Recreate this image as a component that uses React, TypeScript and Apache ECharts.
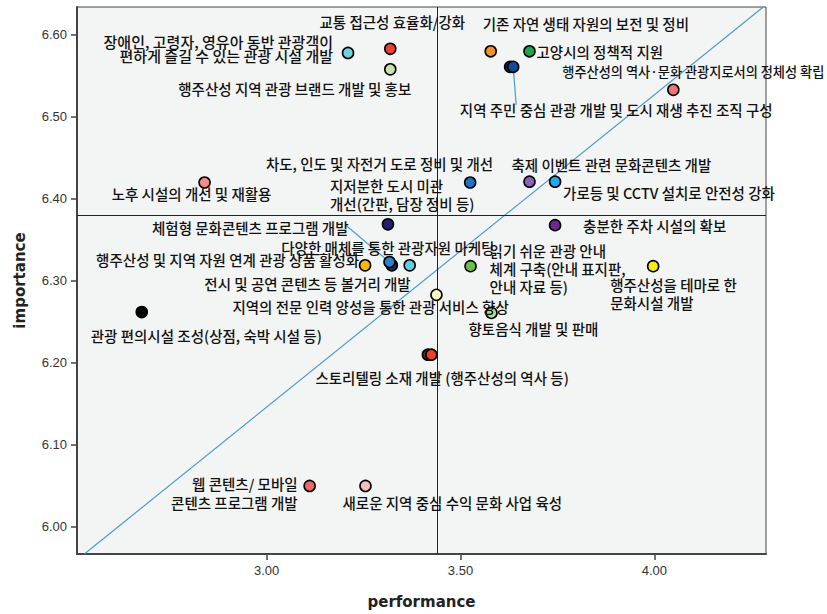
import React, { useEffect, useRef } from "react";
import * as echarts from "echarts";

// Items (the three first ones are points drawn underneath overlapping markers)
const ITEM_NAMES = [
  "",
  "다양한 매체를 통한 관광자원 마케팅",
  "",
  "교통 접근성 효율화/강화",
  "장애인, 고령자, 영유아 동반 관광객이\n편하게 즐길 수 있는 관광 시설 개발",
  "행주산성 지역 관광 브랜드 개발 및 홍보",
  "기존 자연 생태 자원의 보전 및 정비",
  "고양시의 정책적 지원",
  "행주산성의 역사·문화 관광지로서의 정체성 확립",
  "지역 주민 중심 관광 개발 및 도시 재생 추진 조직 구성",
  "차도, 인도 및 자전거 도로 정비 및 개선",
  "지저분한 도시 미관\n개선(간판, 담장 정비 등)",
  "축제 이벤트 관련 문화콘텐츠 개발",
  "가로등 및 CCTV 설치로 안전성 강화",
  "노후 시설의 개선 및 재활용",
  "충분한 주차 시설의 확보",
  "체험형 문화콘텐츠 프로그램 개발",
  "행주산성 및 지역 자원 연계 관광 상품 활성화",
  "전시 및 공연 콘텐츠 등 볼거리 개발",
  "지역의 전문 인력 양성을 통한 관광 서비스 향상",
  "관광 편의시설 조성(상점, 숙박 시설 등)",
  "스토리텔링 소재 개발 (행주산성의 역사 등)",
  "읽기 쉬운 관광 안내\n체계 구축(안내 표지판,\n안내 자료 등)",
  "행주산성을 테마로 한\n문화시설 개발",
  "향토음식 개발 및 판매",
  "웹 콘텐츠/ 모바일\n콘텐츠 프로그램 개발",
  "새로운 지역 중심 수익 문화 사업 육성",
];

const PERFORMANCE = [
  3.628, 3.323, 3.416,
  3.319, 3.21, 3.319, 3.578, 3.678, 4.049, 3.636, 3.525, 3.313, 3.678, 3.744,
  2.84, 3.744, 3.317, 3.254, 3.369, 3.438, 2.678, 3.425, 3.526, 3.997, 3.58,
  3.111, 3.255,
];

const IMPORTANCE = [
  6.561, 6.319, 6.21,
  6.583, 6.578, 6.558, 6.58, 6.58, 6.533, 6.561, 6.42, 6.369, 6.421, 6.421,
  6.42, 6.368, 6.323, 6.319, 6.319, 6.283, 6.262, 6.21, 6.318, 6.318, 6.261,
  6.05, 6.05,
];

const POINT_COLORS = [
  "#1c2440", "#1d2d55", "#5a2a2a",
  "#e8403a", "#6fd3df", "#c9e3a3", "#f5922b", "#1ea64b", "#f07575", "#17489c",
  "#1a73c4", "#231f6e", "#8b62b8", "#20a9ef", "#f28b8b", "#6b2990", "#2a80d2",
  "#f5b70e", "#5ecfe0", "#fbf6c4", "#000000", "#e8402a", "#6cbf48", "#f7eb17",
  "#a9dc8c", "#ee6868", "#f8bcbc",
];

const X_TICKS = [3.0, 3.5, 4.0];
const Y_TICKS = [6.0, 6.1, 6.2, 6.3, 6.4, 6.5, 6.6];
const MEAN_PERFORMANCE = 3.44;
const MEAN_IMPORTANCE = 6.382;
const DIAGONAL_X = [2.53, 4.281];
const DIAGONAL_Y = [5.967, 6.634];

// label layout: [dx, dy, align, lineHeight, fontSize]
const LABEL_LAYOUT: [number, number, string, number, number][] = [
  [0, 0, "center", 18, 14.5],
  [-4, -18, "center", 18, 14.5],
  [0, 0, "center", 18, 14.5],
  [2, -27, "center", 18, 14.5],
  [-15, -4, "right", 14, 15],
  [21, 19, "right", 18, 14.5],
  [-8, -28, "left", 18, 14.5],
  [7, 0, "left", 18, 14.5],
  [20, -18, "center", 18, 13.2],
  [103, 43, "center", 18, 14.5],
  [23, -19, "right", 18, 14.5],
  [-58, -30, "left", 18, 14.5],
  [-18, -17, "left", 18, 14.5],
  [8, 11, "left", 18, 14.5],
  [-13, 11, "center", 18, 14.5],
  [28, 0, "left", 18, 14.5],
  [-41, -35, "right", 18, 14.5],
  [-6, -6, "right", 18, 14.5],
  [1, 18, "right", 18, 14.5],
  [-204, 12, "left", 18, 14.5],
  [-51, 23, "left", 18, 14.5],
  [-116, 23, "left", 18, 14.5],
  [19, 2, "left", 18, 14.5],
  [-43, 27, "left", 18, 14.5],
  [-23, 16, "left", 18, 14.5],
  [-12, 7, "right", 19, 14.5],
  [-23, 17, "left", 18, 14.5],
];

// leader lines: item index -> offset (px) of the line end from the marker centre
const LEADERS: [number, number, number][] = [
  [9, 3, 38],
  [16, -44, -37],
];

export default function App() {
  const ref = useRef<HTMLDivElement>(null);
  useEffect(() => {
    if (!ref.current) return;
    const chart = echarts.init(ref.current, null, { renderer: "svg" });
    const labelFont = "'Noto Sans CJK KR', 'Noto Sans', sans-serif";
    const data = ITEM_NAMES.map((name, i) => ({
      name,
      value: [PERFORMANCE[i], IMPORTANCE[i]],
      itemStyle: { color: POINT_COLORS[i] },
      label: { lineHeight: LABEL_LAYOUT[i][3], fontSize: LABEL_LAYOUT[i][4] },
    }));
    chart.setOption({
      animation: false,
      backgroundColor: "#ffffff",
      grid: {
        left: 77,
        top: 7,
        right: 61,
        bottom: 60,
        show: true,
        backgroundColor: "#f3f5f5",
        borderColor: "#444",
        borderWidth: 1,
      },
      xAxis: {
        type: "value",
        min: 2.511,
        max: 4.288,
        name: "performance",
        nameLocation: "middle",
        nameGap: 40,
        nameTextStyle: {
          fontFamily: "'DejaVu Sans', sans-serif",
          fontWeight: "bold",
          fontSize: 15,
          color: "#222",
        },
        axisLine: { show: true, lineStyle: { color: "#444", width: 2 } },
        axisTick: {
          show: true,
          length: 6,
          customValues: X_TICKS,
          lineStyle: { color: "#444", width: 1.5 },
        },
        axisLabel: {
          customValues: X_TICKS,
          formatter: (v: number) => v.toFixed(2),
          fontFamily: "'Liberation Sans', Arial, sans-serif",
          fontSize: 13,
          color: "#333",
          margin: 10,
        },
        splitLine: { show: false },
      },
      yAxis: {
        type: "value",
        min: 5.967,
        max: 6.634,
        name: "importance",
        nameLocation: "middle",
        nameRotate: 90,
        nameGap: 50,
        nameTextStyle: {
          fontFamily: "'DejaVu Sans', sans-serif",
          fontWeight: "bold",
          fontSize: 15,
          color: "#222",
        },
        axisLine: { show: true, lineStyle: { color: "#444", width: 2 } },
        axisTick: {
          show: true,
          length: 6,
          customValues: Y_TICKS,
          lineStyle: { color: "#444", width: 1.5 },
        },
        axisLabel: {
          customValues: Y_TICKS,
          formatter: (v: number) => v.toFixed(2),
          fontFamily: "'Liberation Sans', Arial, sans-serif",
          fontSize: 13,
          color: "#333",
          margin: 10,
        },
        splitLine: { show: false },
      },
      series: [
        {
          type: "line",
          z: 1,
          silent: true,
          symbol: "none",
          data: DIAGONAL_X.map((x, i) => [x, DIAGONAL_Y[i]]),
          lineStyle: { color: "#4a9bd6", width: 1.2 },
        },
        {
          type: "scatter",
          z: 3,
          symbol: "circle",
          symbolSize: 11,
          itemStyle: { borderColor: "#000", borderWidth: 1.6, opacity: 1 },
          data,
          label: {
            show: true,
            position: "inside",
            formatter: (p: any) => p.name,
            fontFamily: labelFont,
            fontSize: 14.5,
            fontWeight: 500,
            color: "#111",
          },
          labelLayout: (params: any) => {
            const l = LABEL_LAYOUT[params.dataIndex];
            return { dx: l[0], dy: l[1], align: l[2] };
          },
          markLine: {
            silent: true,
            symbol: "none",
            z: 2,
            label: { show: false },
            lineStyle: { color: "#222", width: 1, type: "solid" },
            data: [{ xAxis: MEAN_PERFORMANCE }, { yAxis: MEAN_IMPORTANCE }],
          },
        },
      ],
    });
    // leader lines from markers to their labels, positioned via the chart's own scales
    const leaderGraphics = LEADERS.map(([idx, ox, oy]) => {
      const p = chart.convertToPixel({ gridIndex: 0 }, [
        PERFORMANCE[idx],
        IMPORTANCE[idx],
      ]) as number[];
      return {
        type: "line",
        z: 2,
        silent: true,
        shape: { x1: p[0], y1: p[1], x2: p[0] + ox, y2: p[1] + oy },
        style: { stroke: "#4a9bd6", lineWidth: 1.2 },
      };
    });
    chart.setOption({ graphic: leaderGraphics });
    return () => chart.dispose();
  }, []);
  return (
    <div
      ref={ref}
      style={{ position: "fixed", left: 0, top: 0, width: 827, height: 614 }}
    />
  );
}
